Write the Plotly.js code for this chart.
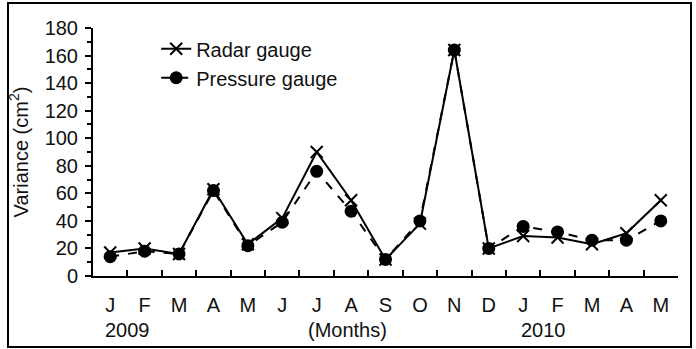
<!DOCTYPE html>
<html>
<head>
<meta charset="utf-8">
<script src="https://cdn.plot.ly/plotly-3.0.1.min.js"></script>
<style>
html,body{margin:0;padding:0;background:#fff;}
#chart{width:696px;height:349px;}
</style>
</head>
<body>
<div id="chart"></div>
<script>
// Data
var periods = ['2009-01','2009-02','2009-03','2009-04','2009-05','2009-06','2009-07','2009-08','2009-09','2009-10','2009-11','2009-12','2010-01','2010-02','2010-03','2010-04','2010-05'];
var monthLabels = ['J','F','M','A','M','J','J','A','S','O','N','D','J','F','M','A','M'];
var radarGauge = [17, 20, 16, 63, 23, 42, 90, 55, 12, 38, 164, 20, 29, 28, 23, 31, 55];
var pressureGauge = [14, 18, 16, 62, 22, 39, 76, 47, 12, 40, 164, 20, 36, 32, 26, 26, 40];
var yearLabels = ['2009', '(Months)', '2010'];
var yearLabelPos = [0.5, 6.9, 12.6];

var font = 'Liberation Sans, Arial, sans-serif';

var traces = [
  {
    x: periods, y: radarGauge, name: 'Radar gauge', type: 'scatter', mode: 'lines+markers',
    line: {color: '#000', width: 2, dash: 'solid'},
    marker: {symbol: 'x-thin', size: 12, color: '#000', line: {color: '#000', width: 2}}
  },
  {
    x: periods, y: pressureGauge, name: 'Pressure gauge', type: 'scatter', mode: 'lines+markers',
    line: {color: '#000', width: 2, dash: 'dash'},
    marker: {symbol: 'circle', size: 13, color: '#000'}
  }
];

var annotations = yearLabels.map(function (t, i) {
  return {
    text: t, x: yearLabelPos[i], xref: 'x', y: -0.218, yref: 'paper',
    showarrow: false, xanchor: 'center', yanchor: 'middle',
    font: {family: font, size: 20, color: '#111'}
  };
});

var layout = {
  width: 696, height: 349,
  margin: {l: 93, r: 18, t: 28, b: 73, pad: 0},
  paper_bgcolor: '#fff', plot_bgcolor: '#fff',
  showlegend: true,
  legend: {
    x: 0.108, y: 0.995, xanchor: 'left', yanchor: 'top',
    bgcolor: 'rgba(0,0,0,0)', borderwidth: 0,
    font: {family: font, size: 20, color: '#111'},
    tracegroupgap: 0
  },
  xaxis: {
    type: 'category', range: [-0.5, 16.5],
    tickmode: 'array', tickvals: periods, ticktext: monthLabels,
    tickson: 'boundaries', ticks: 'inside', ticklen: 6, tickwidth: 2, tickcolor: '#000',
    showline: true, linecolor: '#000', linewidth: 2,
    showgrid: false, zeroline: false,
    ticklabelstandoff: 10,
    tickfont: {family: font, size: 20, color: '#111'},
    fixedrange: true
  },
  yaxis: {
    range: [0, 180], dtick: 20, tick0: 0,
    ticks: 'outside', ticklen: 6, tickwidth: 2, tickcolor: '#000',
    minor: {dtick: 10, ticks: 'outside', ticklen: 4, tickwidth: 2, tickcolor: '#000', showgrid: false},
    showline: true, linecolor: '#000', linewidth: 2,
    showgrid: false, zeroline: false,
    ticklabelstandoff: 3,
    tickfont: {family: font, size: 20, color: '#111'},
    title: {text: 'Variance (cm<sup>2</sup>)', font: {family: font, size: 20, color: '#111'}, standoff: 11},
    fixedrange: true
  },
  annotations: annotations,
  shapes: [
    {type: 'rect', xref: 'paper', yref: 'paper',
     x0: (8 - 93) / 585, x1: (691 - 93) / 585,
     y0: (349 - 73 - 347) / 248, y1: (349 - 73 - 3) / 248,
     line: {color: '#000', width: 2}, fillcolor: 'rgba(0,0,0,0)', layer: 'below'}
  ]
};

Plotly.newPlot('chart', traces, layout, {displayModeBar: false, staticPlot: true});
</script>
</body>
</html>
